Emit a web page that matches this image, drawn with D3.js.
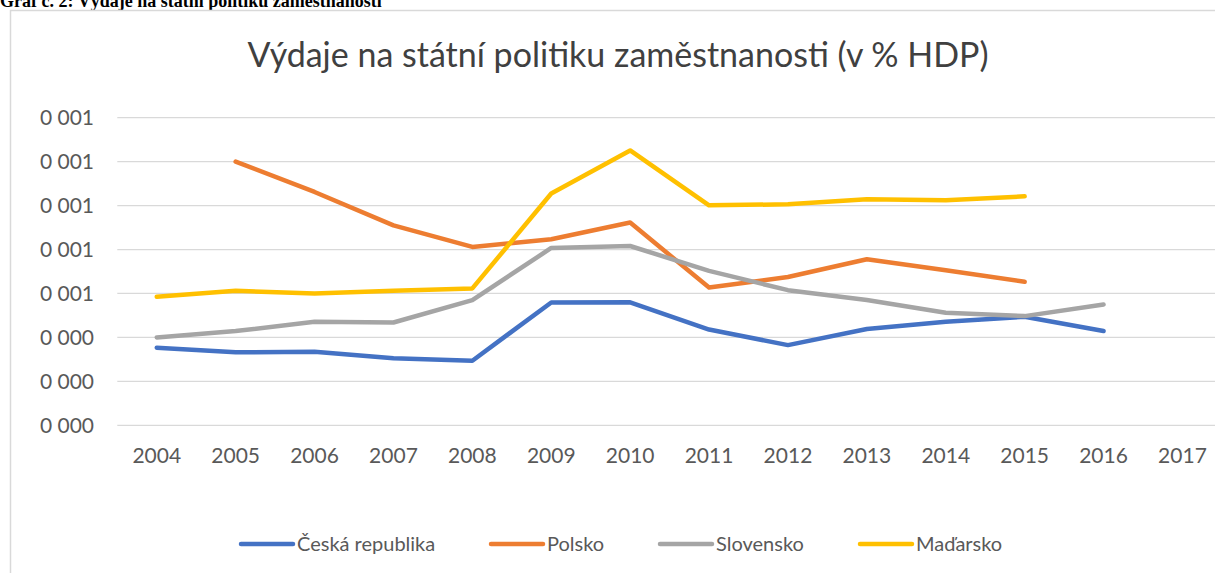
<!DOCTYPE html>
<html>
<head>
<meta charset="utf-8">
<script src="https://cdn.jsdelivr.net/npm/d3@7"></script>
<style>
  body { margin: 0; background: #fff; }
  svg { display: block; }
</style>
</head>
<body>
<div id="chart"></div>
<script>
const width = 1215
const height = 573

// data (share of GDP)
const years = ['2004', '2005', '2006', '2007', '2008', '2009', '2010', '2011', '2012', '2013', '2014', '2015', '2016', '2017']
const cesko = [0.000353, 0.000332, 0.000335, 0.000305, 0.000294, 0.000559, 0.00056, 0.000436, 0.000365, 0.000438, 0.000471, 0.000494, 0.000429, null]
const polsko = [null, 0.0012, 0.001062, 0.00091, 0.000812, 0.000847, 0.000923, 0.000627, 0.000675, 0.000756, 0.000706, 0.000653, null, null]
const slovensko = [0.0004, 0.000429, 0.000471, 0.000468, 0.00057, 0.000807, 0.000816, 0.000703, 0.000615, 0.00057, 0.000512, 0.000497, 0.00055, null]
const madarsko = [0.000585, 0.000612, 0.0006, 0.000612, 0.000623, 0.001055, 0.001251, 0.001001, 0.001006, 0.001029, 0.001024, 0.001042, null, null]

const seriesNames = ['Česká republika', 'Polsko', 'Slovensko', 'Maďarsko']
const seriesValues = [cesko, polsko, slovensko, madarsko]
const colors = ['#4472C4', '#ED7D31', '#A5A5A5', '#FFC000']

const yTicks = [0, 0.0002, 0.0004, 0.0006, 0.0008, 0.001, 0.0012, 0.0014]
const yTickLabels = ['0 000', '0 000', '0 000', '0 001', '0 001', '0 001', '0 001', '0 001']

const font = 'Lato, "Open Sans", sans-serif'

const svg = d3
  .select('#chart')
  .append('svg')
  .attr('width', width)
  .attr('height', height)

// caption above the chart (cut off at the top, as in the source page)
svg
  .append('text')
  .attr('x', 0)
  .attr('y', 7)
  .attr('font-family', '"Liberation Serif", "Times New Roman", serif')
  .attr('font-weight', 'bold')
  .attr('font-size', 18)
  .attr('fill', '#000')
  .text('Graf č. 2: Výdaje na státní politiku zaměstnanosti')

// chart area border
svg
  .append('rect')
  .attr('x', 10.5)
  .attr('y', 10.5)
  .attr('width', width + 20)
  .attr('height', height + 20)
  .attr('fill', '#fff')
  .attr('stroke', '#D9D9D9')
  .attr('stroke-width', 1.5)

svg
  .append('text')
  .attr('x', 618)
  .attr('y', 67)
  .attr('text-anchor', 'middle')
  .attr('font-family', font)
  .attr('font-size', 34)
  .attr('fill', '#404040')
  .text('Výdaje na státní politiku zaměstnanosti (v % HDP)')

const x = d3
  .scaleBand()
  .domain(years)
  .range([117.3, 117.3 + 14 * 78.9])

const y = d3
  .scaleLinear()
  .domain([0, 0.0014])
  .range([425.3, 117.7])

// gridlines
svg
  .append('g')
  .selectAll('line')
  .data(yTicks)
  .enter()
  .append('line')
  .attr('x1', x.range()[0])
  .attr('x2', x.range()[1])
  .attr('y1', d => y(d))
  .attr('y2', d => y(d))
  .attr('stroke', '#D9D9D9')
  .attr('stroke-width', 1.3)

// y labels
svg
  .append('g')
  .selectAll('text')
  .data(yTicks)
  .enter()
  .append('text')
  .attr('x', 94)
  .attr('y', d => y(d))
  .attr('dy', '0.35em')
  .attr('text-anchor', 'end')
  .attr('font-family', font)
  .attr('font-size', 21)
  .attr('fill', '#595959')
  .text((d, i) => yTickLabels[i])

// x labels
const xAxis = svg
  .append('g')
  .attr('transform', 'translate(0,' + y(0) + ')')
  .call(d3.axisBottom(x).tickSize(0).tickPadding(23))

xAxis.select('.domain').remove()
xAxis
  .selectAll('text')
  .attr('font-family', font)
  .attr('font-size', 21)
  .attr('fill', '#595959')

const line = d3
  .line()
  .defined(d => d.v !== null)
  .x(d => x(d.year) + x.bandwidth() / 2)
  .y(d => y(d.v))

svg
  .append('g')
  .selectAll('path')
  .data(seriesValues)
  .enter()
  .append('path')
  .attr('d', vals => line(vals.map((v, i) => ({ year: years[i], v: v }))))
  .attr('fill', 'none')
  .attr('stroke', (d, i) => colors[i])
  .attr('stroke-width', 4.5)
  .attr('stroke-linejoin', 'round')
  .attr('stroke-linecap', 'round')

// legend
const legendX = [239, 489, 658, 858]
const legend = svg
  .append('g')
  .selectAll('g')
  .data(seriesNames)
  .enter()
  .append('g')
  .attr('transform', (d, i) => 'translate(' + legendX[i] + ',544)')

legend
  .append('line')
  .attr('x1', 2)
  .attr('x2', 54)
  .attr('stroke', (d, i) => colors[i])
  .attr('stroke-width', 4.5)
  .attr('stroke-linecap', 'round')

legend
  .append('text')
  .attr('x', 58)
  .attr('dy', '0.35em')
  .attr('font-family', font)
  .attr('font-size', 20)
  .attr('fill', '#595959')
  .text(d => d)
</script>
</body>
</html>
